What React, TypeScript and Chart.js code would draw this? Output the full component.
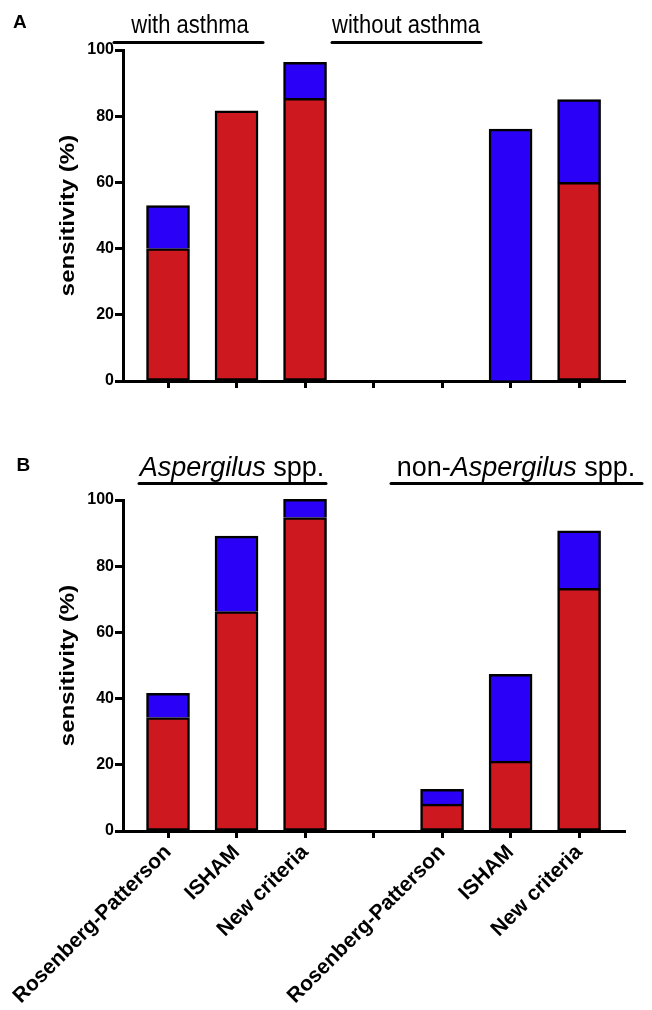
import React, { useEffect, useRef } from 'react';
import { Chart, registerables } from 'chart.js';

Chart.register(...registerables);

const FONT = '"Liberation Sans", Arial, Helvetica, sans-serif';

// ---- data ----
const categories = ['Rosenberg-Patterson', 'ISHAM', 'New criteria', '', 'Rosenberg-Patterson', 'ISHAM', 'New criteria'];
const categoryIndex = [0, 1, 2, 3, 4, 5, 6];
const yTickValues = [0, 20, 40, 60, 80, 100];

// Panel A: with asthma (0-2) / without asthma (4-6)
const asthmaRed = [40, 81.6, 85.4, null, null, null, 60];
const asthmaBlue = [13, null, 10.9, null, null, 76.1, 25];

// Panel B: Aspergilus spp. (0-2) / non-Aspergilus spp. (4-6)
const speciesRed = [34.3, 66.3, 94.7, null, 8.1, 21.1, 73.3];
const speciesBlue = [7.3, 22.8, 5.5, null, 4.5, 26.2, 17.4];

const RED = '#CC181E';
const BLUE = '#2B00F7';

type Seg = { text: string; italic?: boolean };
type Header = { segs: Seg[]; cx: number; baseline: number; size: number; stretch: number; x1: number; x2: number; lineY: number };
type Decor = { letter: string; letterX: number; letterY: number; headers: Header[]; titleX: number };

function decorPlugin(cfg: Decor) {
  return {
    id: 'decor',
    afterDraw(chart: any) {
      const ctx: CanvasRenderingContext2D = chart.ctx;
      ctx.save();
      ctx.fillStyle = '#000';
      ctx.strokeStyle = '#000';
      ctx.textAlign = 'left';
      ctx.textBaseline = 'alphabetic';
      ctx.font = `bold 19px ${FONT}`;
      ctx.fillText(cfg.letter, cfg.letterX, cfg.letterY);

      for (const h of cfg.headers) {
        const fonts = h.segs.map((s) => `${s.italic ? 'italic ' : ''}${h.size}px ${FONT}`);
        const widths = h.segs.map((s, i) => {
          ctx.font = fonts[i];
          return ctx.measureText(s.text).width;
        });
        const total = widths.reduce((a, b) => a + b, 0);
        ctx.save();
        ctx.translate(h.cx - total / 2, h.baseline);
        ctx.scale(1, h.stretch);
        let x = 0;
        h.segs.forEach((s, i) => {
          ctx.font = fonts[i];
          ctx.fillText(s.text, x, 0);
          x += widths[i];
        });
        ctx.restore();
        ctx.lineWidth = 3;
        ctx.lineCap = 'round';
        ctx.beginPath();
        ctx.moveTo(h.x1, h.lineY);
        ctx.lineTo(h.x2, h.lineY);
        ctx.stroke();
      }

      const { top, bottom } = chart.chartArea;
      ctx.save();
      ctx.translate(cfg.titleX, (top + bottom) / 2);
      ctx.rotate(-Math.PI / 2);
      ctx.scale(1.2, 1);
      ctx.font = `bold 20px ${FONT}`;
      ctx.textAlign = 'center';
      ctx.textBaseline = 'middle';
      ctx.fillText('sensitivity (%)', 0, 0);
      ctx.restore();
      ctx.restore();
    },
  };
}

function buildConfig(red: (number | null)[], blue: (number | null)[], showLabels: boolean, height: number, areaTop: number, areaBottom: number, decor: Decor): any {
  return {
    type: 'bar',
    data: {
      datasets: [
        {
          data: categoryIndex.map((x, i) => ({ x, y: red[i] })),
          backgroundColor: RED,
          borderColor: '#000',
          borderWidth: 2.5,
          borderSkipped: false,
          barThickness: 43,
          clip: false,
        },
        {
          data: categoryIndex.map((x, i) => ({ x, y: blue[i] })),
          backgroundColor: BLUE,
          borderColor: '#000',
          borderWidth: 2.5,
          borderSkipped: 'bottom',
          barThickness: 43,
          clip: false,
        },
      ],
    },
    options: {
      responsive: false,
      animation: false,
      devicePixelRatio: 1,
      layout: { padding: { top: areaTop, right: 27, left: 0, bottom: 0 } },
      plugins: { legend: { display: false }, tooltip: { enabled: false } },
      scales: {
        x: {
          type: 'linear',
          stacked: true,
          offset: false,
          min: -0.657,
          max: 6.67,
          afterBuildTicks: (s: any) => {
            s.ticks = categoryIndex.map((v) => ({ value: v }));
          },
          afterFit: (s: any) => {
            s.height = height - areaBottom;
          },
          grid: { offset: false, drawOnChartArea: false, drawTicks: true, tickLength: 7, tickWidth: 3, tickColor: '#000' },
          border: { color: '#000', width: 3 },
          ticks: {
            display: showLabels,
            autoSkip: false,
            maxRotation: 45,
            minRotation: 45,
            padding: 2,
            color: '#000',
            font: { family: FONT, size: 21, weight: 'bold' },
            callback: (v: any) => categories[v as number] ?? '',
          },
        },
        y: {
          stacked: true,
          min: 0,
          max: 100,
          afterBuildTicks: (s: any) => {
            s.ticks = yTickValues.map((v) => ({ value: v }));
          },
          afterFit: (s: any) => {
            s.width = 123;
          },
          grid: { drawOnChartArea: false, drawTicks: true, tickLength: 8, tickWidth: 3, tickColor: '#000' },
          border: { color: '#000', width: 3 },
          ticks: {
            padding: 1,
            color: '#000',
            font: { family: FONT, size: 16, weight: 'bold' },
          },
        },
      },
    },
    plugins: [decorPlugin(decor)],
  };
}

function Panel(props: { top: number; height: number; config: any }) {
  const ref = useRef<HTMLCanvasElement | null>(null);
  useEffect(() => {
    if (!ref.current) return;
    const chart = new Chart(ref.current, props.config);
    return () => chart.destroy();
  }, []);
  return (
    <canvas
      ref={ref}
      width={652}
      height={props.height}
      style={{ position: 'absolute', left: 0, top: props.top, width: 652, height: props.height }}
    />
  );
}

const decorA: Decor = {
  letter: 'A',
  letterX: 13,
  letterY: 28,
  titleX: 68,
  headers: [
    { segs: [{ text: 'with asthma' }], cx: 190, baseline: 33, size: 22, stretch: 1.16, x1: 114, x2: 263, lineY: 42.5 },
    { segs: [{ text: 'without asthma' }], cx: 406, baseline: 33, size: 22, stretch: 1.16, x1: 332, x2: 481, lineY: 42.5 },
  ],
};

const decorB: Decor = {
  letter: 'B',
  letterX: 16.5,
  letterY: 31,
  titleX: 68,
  headers: [
    { segs: [{ text: 'Aspergilus', italic: true }, { text: ' spp.' }], cx: 232, baseline: 35.5, size: 27, stretch: 1.0, x1: 139, x2: 326, lineY: 43.5 },
    { segs: [{ text: 'non-' }, { text: 'Aspergilus', italic: true }, { text: ' spp.' }], cx: 516, baseline: 35.5, size: 27, stretch: 1.0, x1: 391, x2: 642, lineY: 43.5 },
  ],
};

export default function App() {
  const configA = buildConfig(asthmaRed, asthmaBlue, false, 440, 50, 381, decorA);
  const configB = buildConfig(speciesRed, speciesBlue, true, 570, 60, 391, decorB);
  return (
    <div style={{ position: 'absolute', left: 0, top: 0, width: 652, height: 1010, background: '#fff', overflow: 'hidden' }}>
      <Panel top={0} height={440} config={configA} />
      <Panel top={440} height={570} config={configB} />
    </div>
  );
}
